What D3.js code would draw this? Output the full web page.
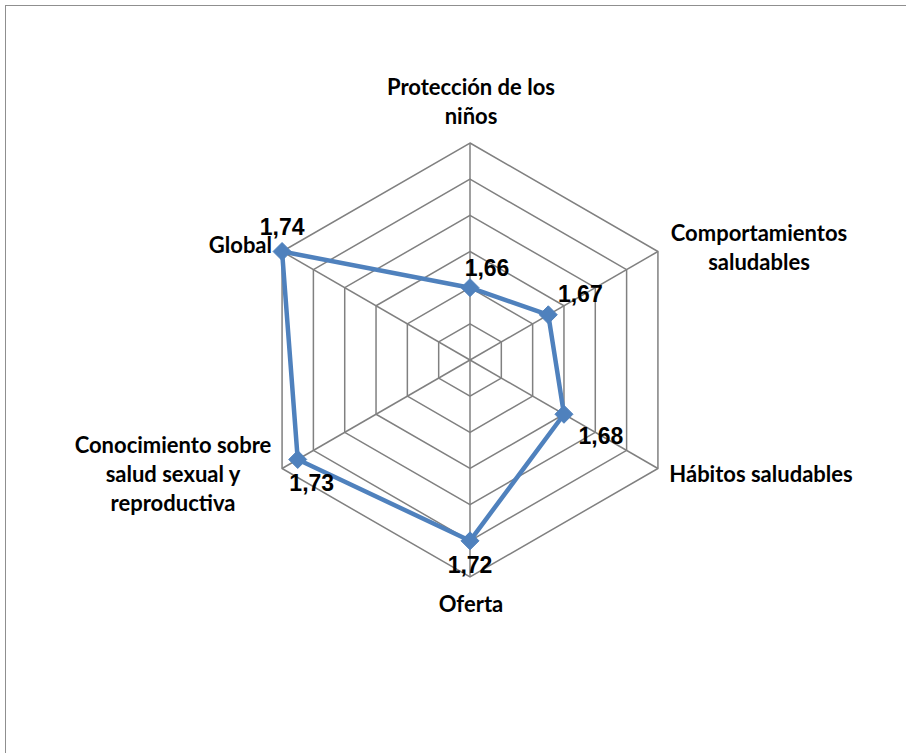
<!DOCTYPE html>
<html>
<head>
<meta charset="utf-8">
<script src="https://cdn.jsdelivr.net/npm/d3@7/dist/d3.min.js"></script>
<style>
html,body{margin:0;padding:0;background:#fff;}
svg{display:block;}
</style>
</head>
<body>
<script>
// ---- data ----
const categories = [
  ["Protección de los", "niños"],
  ["Comportamientos", "saludables"],
  ["Hábitos saludables"],
  ["Oferta"],
  ["Conocimiento sobre", "salud sexual y", "reproductiva"],
  ["Global"]
];
const values = [1.66, 1.67, 1.68, 1.72, 1.73, 1.74];
const valueLabels = ["1,66", "1,67", "1,68", "1,72", "1,73", "1,74"];
const ringTicks = [1.62, 1.64, 1.66, 1.68, 1.70, 1.72, 1.74];

// ---- layout ----
const W = 906, H = 753;
const cx = 470, cy = 360, R = 217;
// label placement (layout only)
const catLabelPos = [
  {x: 471, y: 95, anchor: "middle"},
  {x: 759, y: 241, anchor: "middle"},
  {x: 761, y: 482, anchor: "middle"},
  {x: 471, y: 612, anchor: "middle"},
  {x: 173, y: 453, anchor: "middle"},
  {x: 272, y: 253, anchor: "end"}
];
const valueLabelOffset = [[17,-12],[32,-13],[37,30],[0,32],[14,32],[0,-17]];

const svg = d3.select("body").append("svg").attr("width", W).attr("height", H);

svg.append("rect").attr("x", 5.5).attr("y", 5.5).attr("width", 1200).attr("height", 1200)
  .attr("fill", "none").attr("stroke", "#8f8f8f").attr("stroke-width", 1);

const r = d3.scaleLinear().domain([ringTicks[0], ringTicks[ringTicks.length-1]]).range([0, R]);
const angle = d3.scaleLinear().domain([0, categories.length]).range([0, 2*Math.PI]);

const g = svg.append("g").attr("transform", `translate(${cx},${cy})`);
const pt = (i, v) => [r(v) * Math.sin(angle(i)), -r(v) * Math.cos(angle(i))];

// rings
const ringLine = d3.line();
g.selectAll("path.ring").data(ringTicks.slice(1)).join("path")
  .attr("class", "ring")
  .attr("d", t => ringLine(categories.map((c, i) => pt(i, t))) + "Z")
  .attr("fill", "none").attr("stroke", "#808080").attr("stroke-width", 1.5);

// spokes
g.selectAll("line.spoke").data(categories).join("line")
  .attr("class", "spoke")
  .attr("x1", 0).attr("y1", 0)
  .attr("x2", (d, i) => pt(i, ringTicks[ringTicks.length-1])[0])
  .attr("y2", (d, i) => pt(i, ringTicks[ringTicks.length-1])[1])
  .attr("stroke", "#808080").attr("stroke-width", 1.5);

// series
const pts = values.map((v, i) => pt(i, v));
g.append("path").attr("d", d3.line()(pts) + "Z")
  .attr("fill", "none").attr("stroke", "#4F81BD").attr("stroke-width", 4.5)
  .attr("stroke-linejoin", "round");

g.selectAll("path.marker").data(pts).join("path")
  .attr("class", "marker")
  .attr("transform", d => `translate(${d[0]},${d[1]})`)
  .attr("d", "M0,-9L9,0L0,9L-9,0Z")
  .attr("fill", "#4F81BD").attr("stroke", "#4F81BD").attr("stroke-width", 1);

// value labels
g.selectAll("text.val").data(valueLabels).join("text")
  .attr("class", "val")
  .attr("x", (d, i) => pts[i][0] + valueLabelOffset[i][0])
  .attr("y", (d, i) => pts[i][1] + valueLabelOffset[i][1])
  .attr("text-anchor", "middle")
  .attr("font-family", "'Liberation Sans', Arial, sans-serif")
  .attr("font-weight", "bold").attr("font-size", 23).attr("fill", "#000")
  .text(d => d);

// category labels
const cl = svg.selectAll("text.cat").data(categories).join("text")
  .attr("class", "cat")
  .attr("x", (d, i) => catLabelPos[i].x)
  .attr("y", (d, i) => catLabelPos[i].y)
  .attr("text-anchor", (d, i) => catLabelPos[i].anchor)
  .attr("font-family", "Lato, 'Open Sans', sans-serif")
  .attr("font-weight", "bold").attr("font-size", 22).attr("fill", "#000");
cl.each(function(d, i) {
  const t = d3.select(this);
  d.forEach((line, j) => {
    t.append("tspan").attr("x", catLabelPos[i].x).attr("dy", j === 0 ? 0 : 29).text(line);
  });
});
</script>
</body>
</html>
